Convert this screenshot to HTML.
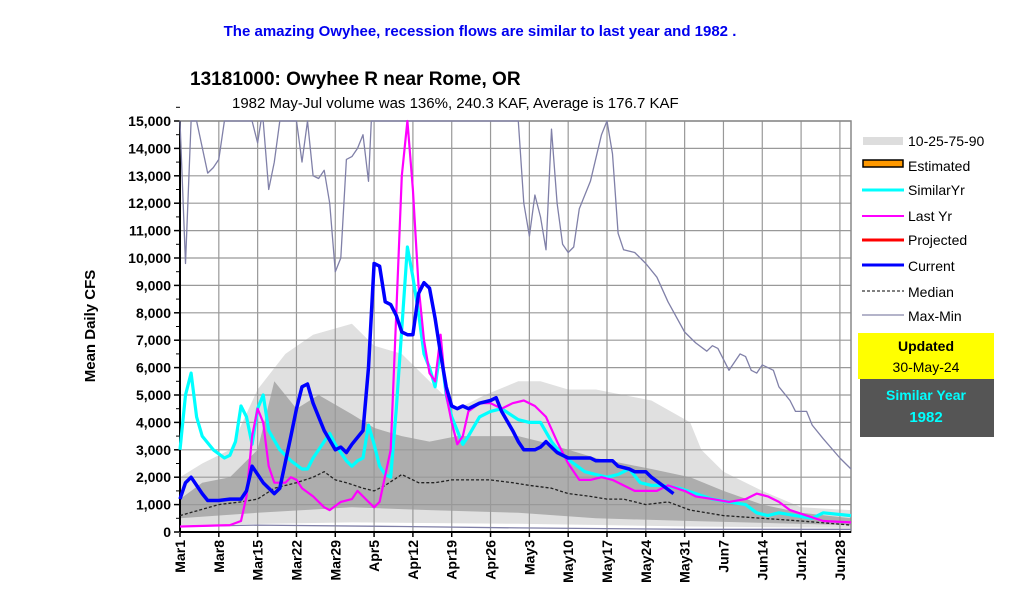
<!DOCTYPE html>
<html><head><meta charset="utf-8"><style>
body{margin:0;background:#fff;}
svg{display:block;font-family:"Liberation Sans",Arial,sans-serif;}
</style></head><body>
<svg id="s" width="1023" height="608" viewBox="0 0 1023 608" xmlns="http://www.w3.org/2000/svg">
<rect width="1023" height="608" fill="#fff"/>
<text x="480" y="36" text-anchor="middle" font-size="15" font-weight="bold" fill="#0000ee">The amazing Owyhee, recession flows are similar to last year and 1982 .</text>
<text x="190" y="85" font-size="19" font-weight="bold" fill="#000">13181000: Owyhee R near Rome, OR</text>
<text x="232" y="108" font-size="15" fill="#000">1982 May-Jul volume was 136%, 240.3 KAF, Average is 176.7 KAF</text>
<text transform="translate(95,326) rotate(-90)" text-anchor="middle" font-size="15" font-weight="bold">Mean Daily CFS</text>
<g id="g"></g>
<!-- legend -->
<rect x="863" y="137" width="40" height="8" fill="#ddd"/>
<text x="908" y="146" font-size="14">10-25-75-90</text>
<rect x="863" y="160" width="40" height="7" fill="#f90" stroke="#000" stroke-width="1.5"/>
<text x="908" y="171" font-size="14">Estimated</text>
<line x1="862" y1="190" x2="904" y2="190" stroke="#0ff" stroke-width="3"/>
<text x="908" y="195" font-size="14">SimilarYr</text>
<line x1="862" y1="216" x2="904" y2="216" stroke="#f0f" stroke-width="2"/>
<text x="908" y="221" font-size="14">Last Yr</text>
<line x1="862" y1="240" x2="904" y2="240" stroke="#f00" stroke-width="3"/>
<text x="908" y="245" font-size="14">Projected</text>
<line x1="862" y1="265" x2="904" y2="265" stroke="#00f" stroke-width="3"/>
<text x="908" y="271" font-size="14">Current</text>
<line x1="862" y1="291" x2="904" y2="291" stroke="#000" stroke-width="1" stroke-dasharray="3,2"/>
<text x="908" y="297" font-size="14">Median</text>
<line x1="862" y1="315" x2="904" y2="315" stroke="#8888aa" stroke-width="1.2"/>
<text x="908" y="321" font-size="14">Max-Min</text>
<rect x="858" y="333" width="136" height="46" fill="#ff0"/>
<text x="926" y="351" text-anchor="middle" font-size="14" font-weight="bold">Updated</text>
<text x="926" y="372" text-anchor="middle" font-size="14">30-May-24</text>
<rect x="860" y="379" width="134" height="58" fill="#555"/>
<text x="926" y="400" text-anchor="middle" font-size="14" font-weight="bold" fill="#0ff">Similar Year</text>
<text x="926" y="422" text-anchor="middle" font-size="15" font-weight="bold" fill="#0ff">1982</text>
</svg>
<script>
const L=180,R=851,T=121,B=532,ND=121;
const X=d=>L+d*(R-L)/ND, Y=v=>B-v*(B-T)/15000;
const mon={Mar:0,Apr:31,May:61,Jun:92};
function D(s){const m=s.slice(0,3);return mon[m]+parseFloat(s.slice(3))-1;}
function P(a){return a.map((p,i)=>(i?'L':'M')+X(D(p[0])).toFixed(1)+','+Y(Math.min(p[1],15000)).toFixed(1)).join(' ');}
let h='';
const band=(up,lo,col)=>{let top=up.map(p=>X(D(p[0])).toFixed(1)+','+Y(p[1]).toFixed(1));let bot=lo.slice().reverse().map(p=>X(D(p[0])).toFixed(1)+','+Y(p[1]).toFixed(1));h+=`<polygon points="${top.concat(bot).join(' ')}" fill="${col}"/>`;};
const p90=[["Mar1",2000],["Mar5",2500],["Mar10",3000],["Mar15",5200],["Mar20",6500],["Mar25",7200],["Apr1",7600],["Apr5",6800],["Apr10",6500],["Apr15",5500],["Apr20",4500],["Apr25",5000],["May1",5500],["May5",5500],["May10",5200],["May15",5200],["May20",5000],["May25",4800],["Jun1",4000],["Jun3",3000],["Jun7",2200],["Jun14",1500],["Jun21",900],["Jun30",800]];
const p75=[["Mar1",1200],["Mar5",1800],["Mar10",2000],["Mar15",3000],["Mar18",5500],["Mar22",4500],["Mar26",5000],["Apr1",4300],["Apr5",3800],["Apr10",3500],["Apr15",3300],["Apr20",3500],["Apr26",3500],["May1",3500],["May5",3300],["May10",3000],["May15",2700],["May20",2500],["May25",2300],["Jun1",2000],["Jun7",1500],["Jun14",1000],["Jun21",700],["Jun30",500]];
const p25=[["Mar1",500],["Mar15",700],["Apr1",900],["Apr15",800],["May1",700],["May15",500],["Jun1",400],["Jun30",250]];
const p10=[["Mar1",250],["Apr1",350],["May1",300],["Jun1",200],["Jun30",150]];
band(p90,p10,"#e0e0e0");band(p75,p25,"#adadad");
// grid
for(let v=0;v<=15000;v+=1000){h+=`<line x1="${L}" x2="${R}" y1="${Y(v)}" y2="${Y(v)}" stroke="#999" stroke-width="1.2"/>`;
h+=`<text x="${L-9}" y="${Y(v)+5}" text-anchor="end" font-size="14" font-weight="bold">${v.toLocaleString('en-US')}</text>`;
h+=`<line x1="${L-6}" x2="${L}" y1="${Y(v)}" y2="${Y(v)}" stroke="#000" stroke-width="1.5"/><line x1="${L-4}" x2="${L}" y1="${Y(v+500)}" y2="${Y(v+500)}" stroke="#000"/>`;}
const labs=["Mar1","Mar8","Mar15","Mar22","Mar29","Apr5","Apr12","Apr19","Apr26","May3","May10","May17","May24","May31","Jun7","Jun14","Jun21","Jun28"];
labs.forEach(l=>{const x=X(D(l));if(l!="Mar1")h+=`<line x1="${x}" x2="${x}" y1="${T}" y2="${B}" stroke="#999" stroke-width="1.2"/>`;
h+=`<line x1="${x}" x2="${x}" y1="${B}" y2="${B+5}" stroke="#000" stroke-width="1.5"/>`;
h+=`<text transform="translate(${x+5},${B+8}) rotate(-90)" text-anchor="end" font-size="14" font-weight="bold">${l}</text>`;});
h+=`<rect x="${L}" y="${T}" width="${R-L}" height="${B-T}" fill="none" stroke="#888" stroke-width="1.5"/>`;
h+=`<line x1="${L}" x2="${L}" y1="${T}" y2="${B}" stroke="#000" stroke-width="2"/><line x1="${L}" x2="${R}" y1="${B}" y2="${B}" stroke="#000" stroke-width="2"/>`;
const line=(a,c,w,extra='')=>{h+=`<path d="${P(a)}" fill="none" stroke="${c}" stroke-width="${w}" stroke-linejoin="round" ${extra}/>`;};
const mx=[["Mar1",15000],["Mar2",9800],["Mar3",15000],["Mar4",15000],["Mar6",13100],["Mar7",13300],["Mar8",13600],["Mar9",15000],["Mar14",15000],["Mar15",14200],["Mar15.6",15000],["Mar16",15000],["Mar17",12500],["Mar18",13500],["Mar19",15000],["Mar22",15000],["Mar23",13500],["Mar24",15000],["Mar25",13000],["Mar26",12900],["Mar27",13200],["Mar28",12000],["Mar29",9500],["Mar30",10000],["Mar31",13600],["Apr1",13700],["Apr2",14000],["Apr3",14500],["Apr4",12800],["Apr4.5",15000],["May1",15000],["May2",12000],["May3",10800],["May4",12300],["May5",11500],["May6",10300],["May7",14700],["May8",12000],["May9",10500],["May10",10200],["May11",10400],["May12",11800],["May14",12800],["May16",14500],["May17",15000],["May18",13800],["May19",10900],["May20",10300],["May22",10200],["May24",9800],["May26",9300],["May28",8400],["May31",7300],["Jun2",6900],["Jun4",6600],["Jun5",6800],["Jun6",6700],["Jun7",6300],["Jun8",5900],["Jun10",6500],["Jun11",6400],["Jun12",5900],["Jun13",5800],["Jun14",6100],["Jun16",5900],["Jun17",5300],["Jun19",4800],["Jun20",4400],["Jun22",4400],["Jun23",3900],["Jun25",3400],["Jun28",2700],["Jun30",2300]];
line(mx,"#8080a8",1.3);
line([["Mar1",200],["Mar15",250],["Apr10",200],["May1",150],["Jun1",100],["Jun30",100]],"#8080a8",1.3);
line([["Mar1",600],["Mar8",1000],["Mar12",1100],["Mar15",1200],["Mar18",1600],["Mar22",1800],["Mar25",2000],["Mar27",2200],["Mar29",1900],["Mar31",1800],["Apr3",1600],["Apr5",1500],["Apr7",1700],["Apr10",2100],["Apr13",1800],["Apr16",1800],["Apr19",1900],["Apr23",1900],["Apr26",1900],["Apr30",1800],["May3",1700],["May7",1600],["May10",1400],["May14",1300],["May17",1200],["May20",1200],["May24",1000],["May28",1100],["Jun1",800],["Jun4",700],["Jun7",600],["Jun14",500],["Jun21",400],["Jun30",250]],"#222",1.3,'stroke-dasharray="3,2"');
const last=[["Mar1",200],["Mar10",250],["Mar12",400],["Mar13",1300],["Mar14",3500],["Mar15",4500],["Mar16",4000],["Mar17",2400],["Mar18",1800],["Mar20",1800],["Mar21",2000],["Mar22",1900],["Mar23",1600],["Mar25",1300],["Mar27",900],["Mar28",800],["Mar30",1100],["Apr1",1200],["Apr2",1500],["Apr4",1100],["Apr5",900],["Apr6",1100],["Apr8",3000],["Apr9",8000],["Apr10",13000],["Apr11",15000],["Apr12",12500],["Apr13",9000],["Apr14",7000],["Apr15",5800],["Apr16",5500],["Apr17",7200],["Apr18",5000],["Apr19",4000],["Apr20",3200],["Apr21",3500],["Apr22",4400],["Apr24",4700],["Apr26",4700],["Apr28",4500],["Apr30",4700],["May2",4800],["May4",4600],["May6",4200],["May8",3300],["May10",2500],["May12",1900],["May14",1900],["May16",2000],["May18",1900],["May20",1700],["May22",1500],["May24",1500],["May26",1500],["May28",1700],["May31",1500],["Jun2",1300],["Jun5",1200],["Jun8",1100],["Jun11",1200],["Jun13",1400],["Jun15",1300],["Jun17",1100],["Jun19",800],["Jun22",600],["Jun25",400],["Jun30",350]];
const sim=[["Mar1",3000],["Mar2",5000],["Mar3",5800],["Mar4",4200],["Mar5",3500],["Mar7",3000],["Mar9",2700],["Mar10",2800],["Mar11",3300],["Mar12",4600],["Mar13",4200],["Mar14",3200],["Mar15",4500],["Mar16",5000],["Mar17",3700],["Mar19",3000],["Mar21",2600],["Mar23",2300],["Mar24",2300],["Mar25",2700],["Mar27",3300],["Mar28",3600],["Mar29",3200],["Mar31",2600],["Apr1",2400],["Apr2",2600],["Apr3",2700],["Apr4",3900],["Apr5",3200],["Apr6",2400],["Apr7",2100],["Apr8",2000],["Apr9",4500],["Apr11",10400],["Apr12",9300],["Apr13",8000],["Apr14",6500],["Apr15",6000],["Apr16",5300],["Apr17",6700],["Apr18",5000],["Apr19",4200],["Apr20",3700],["Apr21",3200],["Apr22",3500],["Apr24",4200],["Apr26",4400],["Apr28",4500],["May1",4100],["May3",4000],["May5",4000],["May7",3300],["May9",2800],["May11",2500],["May13",2200],["May15",2100],["May17",2000],["May19",2100],["May21",2300],["May23",1800],["May25",1700],["May27",1700],["May30",1600],["Jun2",1400],["Jun5",1200],["Jun8",1100],["Jun11",1000],["Jun13",700],["Jun15",600],["Jun17",700],["Jun20",600],["Jun23",500],["Jun25",700],["Jun30",600]];
line(sim,"#00ffff",3.2);
line(last,"#ff00ff",2.2);
const cur=[["Mar1",1200],["Mar2",1800],["Mar3",2000],["Mar5",1400],["Mar6",1150],["Mar8",1150],["Mar10",1200],["Mar12",1200],["Mar13",1500],["Mar14",2400],["Mar16",1800],["Mar18",1400],["Mar19",1600],["Mar21",3500],["Mar22",4500],["Mar23",5300],["Mar24",5400],["Mar25",4700],["Mar27",3700],["Mar29",3000],["Mar30",3100],["Mar31",2900],["Apr1",3200],["Apr3",3700],["Apr4",6000],["Apr5",9800],["Apr6",9700],["Apr7",8400],["Apr8",8300],["Apr9",7900],["Apr10",7300],["Apr11",7200],["Apr12",7200],["Apr13",8700],["Apr14",9100],["Apr15",8900],["Apr16",7800],["Apr17",6500],["Apr18",5300],["Apr19",4600],["Apr20",4500],["Apr21",4600],["Apr22",4500],["Apr23",4600],["Apr24",4700],["Apr26",4800],["Apr27",4900],["Apr28",4400],["Apr30",3700],["May1",3300],["May2",3000],["May4",3000],["May5",3100],["May6",3300],["May7",3100],["May8",2900],["May10",2700],["May12",2700],["May14",2700],["May15",2600],["May18",2600],["May19",2400],["May21",2300],["May22",2200],["May24",2200],["May25",2000],["May27",1700],["May29",1400]];
line(cur,"#0000ff",3.5);
document.getElementById('g').innerHTML=h;
</script>
</body></html>
